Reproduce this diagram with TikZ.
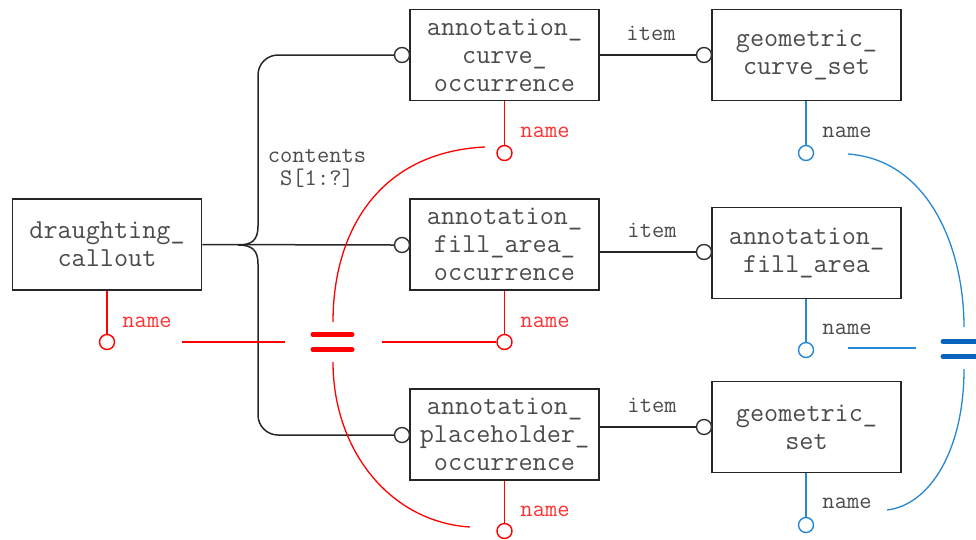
\documentclass[tikz,border=0pt]{standalone}
\usepackage{fontspec}
\definecolor{txt}{RGB}{75,75,75}
\definecolor{myred}{RGB}{255,0,0}
\definecolor{lblred}{RGB}{255,50,50}
\definecolor{myblue}{RGB}{40,135,210}
\definecolor{barblue}{RGB}{10,100,190}
\begin{document}
\begin{tikzpicture}[x=1pt,y=-1pt,
  ent/.style={draw=black!85, line width=1.5pt, minimum width=189pt, minimum height=91pt, inner sep=0pt, align=center, text=txt, font=\ttfamily\fontsize{27.4}{28}\selectfont},
  ring/.style={circle, draw, line width=1.4pt, fill=white, minimum size=15pt, inner sep=0pt},
  blackring/.style={ring, draw=black!80},
  redring/.style={ring, draw=myred},
  bluering/.style={ring, draw=myblue},
  lbl/.style={text=txt, font=\ttfamily\fontsize{23.8}{23}\selectfont, inner sep=0pt, align=center},
  redlbl/.style={lbl, text=lblred},
  conn/.style={line width=1.5pt, draw=black!85},
  redline/.style={line width=1.3pt, draw=myred},
  blueline/.style={line width=1.3pt, draw=myblue},
  redbar/.style={line width=5pt, draw=myred, line cap=round},
  bluebar/.style={line width=5pt, draw=barblue, line cap=round}]
\useasboundingbox (0,0) rectangle (976,539);
\clip (0,0) rectangle (976,539);

% entities
\node[ent] (dc)   at (107,244.5) {draughting\_\\callout};
\node[ent] (aco)  at (504.5,55)  {annotation\_\\curve\_\\occurrence};
\node[ent] (afao) at (504.5,244.5) {annotation\_\\fill\_area\_\\occurrence};
\node[ent] (apo)  at (504.5,434.5) {annotation\_\\placeholder\_\\occurrence};
\node[ent] (gcs)  at (806.5,55)  {geometric\_\\curve\_set};
\node[ent] (afa)  at (806.5,253) {annotation\_\\fill\_area};
\node[ent] (gs)   at (806.5,427) {geometric\_\\set};

% contents relation
\node[blackring] (c1) at (402,55) {};
\node[blackring] (c2) at (402,245) {};
\node[blackring] (c3) at (402,435) {};
\coordinate (ju) at (238,245);
\coordinate (tu) at (258,226);
\coordinate (td) at (258,264);
\draw[conn] (dc.east) -- (c2.west);
\draw[conn, rounded corners=20pt] (tu) -- (258,55) -- (c1.west);
\draw[conn, rounded corners=20pt] (td) -- (258,435) -- (c3.west);
\draw[conn] (tu) .. controls (258,240) and (252,245) .. (ju);
\draw[conn] (td) .. controls (258,250) and (252,245) .. (ju);
\node[lbl] (contents) at (317,168) {contents\\S[1:?]};

% item relations
\node[blackring] (i1) at (704,55) {};
\node[blackring] (i2) at (704,252) {};
\node[blackring] (i3) at (704,427) {};
\draw[conn] (aco.east) -- (i1.west);
\draw[conn] (afao.east |- i2) -- (i2.west);
\draw[conn] (apo.east |- i3) -- (i3.west);
\node[lbl] (item1) at (651,33) {item};
\node[lbl] (item2) at (652,230) {item};
\node[lbl] (item3) at (652,405) {item};

% red name attributes
\node[redring] (r0) at (107,342) {};
\node[redring] (r1) at (504.5,153) {};
\node[redring] (r2) at (504.5,342) {};
\node[redring] (r3) at (504.5,531) {};
\draw[redline] (dc.south) -- (r0.north);
\draw[redline] (aco.south) -- (r1.north);
\draw[redline] (afao.south) -- (r2.north);
\draw[redline] (apo.south) -- (r3.north);
\node[redlbl] (rn0) at (147,322) {name};
\node[redlbl] (rn1) at (545,132) {name};
\node[redlbl] (rn2) at (545,322) {name};
\node[redlbl] (rn3) at (545,511) {name};

% red equality
\coordinate (req) at (332.5,342);
\draw[redbar] ([xshift=-19.5pt,yshift=-7.5pt]req) -- ([xshift=19.5pt,yshift=-7.5pt]req);
\draw[redbar] ([xshift=-19.5pt,yshift=7.5pt]req) -- ([xshift=19.5pt,yshift=7.5pt]req);
\draw[redline] (182,342) -- (285,342);
\draw[redline] (382,342) -- (r2.west);
\draw[redline] (485,147) .. controls (380,152) and (333,230) .. (333,322);
\draw[redline] (333,362) .. controls (333,450) and (390,522) .. (470,527);

% blue name attributes
\node[bluering] (b1) at (806,153) {};
\node[bluering] (b2) at (806,350) {};
\node[bluering] (b3) at (806,525) {};
\draw[blueline] (gcs.south -| b1) -- (b1.north);
\draw[blueline] (afa.south -| b2) -- (b2.north);
\draw[blueline] (gs.south -| b3) -- (b3.north);
\node[lbl] (bn1) at (847,132) {name};
\node[lbl] (bn2) at (847,329) {name};
\node[lbl] (bn3) at (847,503) {name};

% blue equality
\coordinate (beq) at (966,349);
\draw[bluebar] ([xshift=-23pt,yshift=-7.5pt]beq) -- ([xshift=25pt,yshift=-7.5pt]beq);
\draw[bluebar] ([xshift=-23pt,yshift=7.5pt]beq) -- ([xshift=25pt,yshift=7.5pt]beq);
\draw[blueline] (848,348) -- (916,348);
\draw[blueline] (848,154) .. controls (930,160) and (964,250) .. (964,327);
\draw[blueline] (964,369) .. controls (964,450) and (930,505) .. (887,510);
\end{tikzpicture}
\end{document}
